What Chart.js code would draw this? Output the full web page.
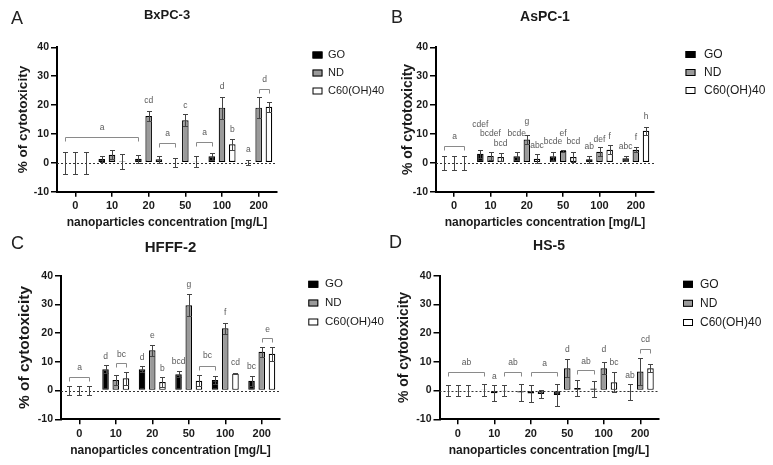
<!DOCTYPE html>
<html>
<head>
<meta charset="utf-8">
<title>Citotoxicidade</title>
<script src="https://cdn.jsdelivr.net/npm/chart.js@4.4.1/dist/chart.umd.min.js"></script>
<style>
body { margin: 0; background: #fff; }
#pagina { position: relative; width: 773px; height: 465px; overflow: hidden; }
canvas { position: absolute; }
</style>
</head>
<body>
<div id="pagina">
<canvas id="painel-a" width="386" height="232" style="left:0px;top:0px"></canvas>
<canvas id="painel-b" width="387" height="232" style="left:386px;top:0px"></canvas>
<canvas id="painel-c" width="386" height="233" style="left:0px;top:232px"></canvas>
<canvas id="painel-d" width="387" height="233" style="left:386px;top:232px"></canvas>
</div>
<script>
const doses = ["0", "10", "20", "50", "100", "200"];
const seriesNames = ["GO", "ND", "C60(OH)40"];
const yMin = -10;
const yMax = 40;
const yStep = 10;

// BxPC-3
const bxpcGO = [0, 1.3, 1.4, 0, 2.3, 0.2];
const bxpcND = [0, 2.8, 16.2, 14.7, 19.1, 19.1];
const bxpcC60 = [0, 0.5, 1.2, 0.4, 6.4, 19.4];
const bxpcGOsd = [3.9, 0.9, 1.4, 1.6, 1.2, 0.8];
const bxpcNDsd = [3.9, 1.5, 1.6, 2.1, 3.8, 3.7];
const bxpcC60sd = [3.9, 2.6, 1.1, 2.0, 1.9, 1.7];

// AsPC-1
const aspcGO = [0, 3.1, 2.3, 2.3, 1.2, 1.6];
const aspcND = [0, 2.4, 8.1, 4.2, 3.8, 4.5];
const aspcC60 = [0, 2.0, 1.4, 2.0, 4.5, 11.1];
const aspcGOsd = [2.4, 1.4, 1.3, 1.6, 1.3, 0.9];
const aspcNDsd = [2.4, 1.4, 1.7, 0.4, 1.6, 0.9];
const aspcC60sd = [2.4, 1.5, 1.5, 1.7, 1.5, 1.4];

// HFFF-2
const hfffGO = [0, 7.4, 7.4, 5.7, 3.7, 3.4];
const hfffND = [0, 3.7, 14.0, 29.7, 21.7, 13.5];
const hfffC60 = [0, 4.3, 3.0, 3.4, 5.9, 12.8];
const hfffGOsd = [1.5, 1.4, 1.0, 1.0, 1.3, 1.7];
const hfffNDsd = [1.5, 1.8, 1.8, 3.9, 2.0, 1.7];
const hfffC60sd = [1.5, 2.3, 1.7, 1.9, 0.3, 2.4];

// HS-5
const hsGO = [0, 0.2, -0.7, -1.5, 0.7, -0.4];
const hsND = [0, -0.9, -1.0, 7.8, 7.8, 6.6];
const hsC60 = [0, -0.1, -1.2, 0.9, 2.9, 7.8];
const hsGOsd = [1.9, 2.0, 3.0, 3.9, 2.8, 2.8];
const hsNDsd = [1.9, 2.9, 2.9, 3.1, 2.0, 4.7];
const hsC60sd = [1.9, 1.9, 1.3, 2.7, 3.5, 1.4];

// letras de significancia: at = [dose, serie], from/to = colchete
const bxpcLetters = [
  { text: "a", from: [0, 0], to: [2, 0], y: 8.9, ly: 12.2 },
  { text: "cd", at: [2, 1], ly: 21.4 },
  { text: "a", from: [2, 2], to: [3, 0], y: 6.9, ly: 10.1 },
  { text: "c", at: [3, 1], ly: 19.9 },
  { text: "a", from: [3, 2], to: [4, 0], y: 7.2, ly: 10.6 },
  { text: "d", at: [4, 1], ly: 26.3 },
  { text: "b", at: [4, 2], ly: 11.6 },
  { text: "a", at: [5, 0], ly: 4.5 },
  { text: "d", from: [5, 1], to: [5, 2], y: 25.7, ly: 28.9 }
];
const aspcLetters = [
  { text: "a", from: [0, 0], to: [0, 2], y: 5.7, ly: 8.9 },
  { text: "cdef", at: [1, 0], ly: 13.2 },
  { text: "bcdef", at: [1, 1], ly: 10.2 },
  { text: "bcd", at: [1, 2], ly: 6.8 },
  { text: "bcde", at: [2, 0], ly: 10.2 },
  { text: "g", at: [2, 1], ly: 14.3 },
  { text: "abc", at: [2, 2], ly: 5.8 },
  { text: "bcde", at: [3, 0], ly: 7.3 },
  { text: "ef", at: [3, 1], ly: 10.2 },
  { text: "bcd", at: [3, 2], ly: 7.3 },
  { text: "ab", at: [4, 0], ly: 5.7 },
  { text: "def", at: [4, 1], ly: 8.1 },
  { text: "f", at: [4, 2], ly: 9.2 },
  { text: "abc", at: [5, 0], ly: 5.6 },
  { text: "f", at: [5, 1], ly: 8.6 },
  { text: "h", at: [5, 2], ly: 16.0 }
];
const hfffLetters = [
  { text: "a", from: [0, 0], to: [0, 2], y: 4.9, ly: 8.0 },
  { text: "d", at: [1, 0], ly: 11.9 },
  { text: "bc", from: [1, 1], to: [1, 2], y: 9.5, ly: 12.4 },
  { text: "d", at: [2, 0], ly: 11.3 },
  { text: "e", at: [2, 1], ly: 19.1 },
  { text: "b", at: [2, 2], ly: 7.6 },
  { text: "bcd", at: [3, 0], ly: 10.1 },
  { text: "g", at: [3, 1], ly: 36.9 },
  { text: "bc", from: [3, 2], to: [4, 0], y: 8.7, ly: 12.1 },
  { text: "f", at: [4, 1], ly: 27.2 },
  { text: "cd", at: [4, 2], ly: 9.8 },
  { text: "bc", at: [5, 0], ly: 8.4 },
  { text: "e", from: [5, 1], to: [5, 2], y: 18.3, ly: 21.2 }
];
const hsLetters = [
  { text: "ab", from: [0, 0], to: [1, 0], y: 6.3, ly: 9.8 },
  { text: "a", at: [1, 1], ly: 4.9 },
  { text: "ab", from: [1, 2], to: [2, 0], y: 6.3, ly: 9.8 },
  { text: "a", from: [2, 1], to: [3, 0], y: 6.3, ly: 9.5 },
  { text: "d", at: [3, 1], ly: 14.2 },
  { text: "ab", from: [3, 2], to: [4, 0], y: 7.0, ly: 10.1 },
  { text: "d", at: [4, 1], ly: 14.2 },
  { text: "bc", at: [4, 2], ly: 9.8 },
  { text: "ab", at: [5, 0], ly: 5.1 },
  { text: "cd", from: [5, 1], to: [5, 2], y: 14.4, ly: 17.7 }
];

const fonte = "'Liberation Sans', Arial, sans-serif";
const corTexto = "#1a1a1a";
const coresSeries = ["#000000", "#9a9a9a", "#ffffff"];

function criarExtras(cfg) {
  return {
    id: "extras",
    beforeDatasetsDraw(chart) {
      const { ctx, chartArea } = chart;
      const y0 = Math.round(chart.scales.y.getPixelForValue(0)) + 0.5;
      ctx.save();
      ctx.strokeStyle = "#333";
      ctx.lineWidth = 1;
      ctx.setLineDash([2, 2]);
      ctx.beginPath();
      ctx.moveTo(chartArea.left, y0);
      ctx.lineTo(chartArea.right, y0);
      ctx.stroke();
      ctx.restore();
    },
    afterDatasetsDraw(chart) {
      const { ctx } = chart;
      const y = chart.scales.y;
      const barX = (p) => chart.getDatasetMeta(p[1]).data[p[0]].x;
      ctx.save();

      // barras de erro
      ctx.strokeStyle = "#444";
      ctx.lineWidth = 1;
      chart.data.datasets.forEach((ds, i) => {
        const meta = chart.getDatasetMeta(i);
        meta.data.forEach((bar, j) => {
          const v = ds.data[j];
          const e = ds.erro[j];
          const yt = Math.round(y.getPixelForValue(v + e)) + 0.5;
          const yb = Math.round(y.getPixelForValue(v - e)) + 0.5;
          const x = Math.round(bar.x) + 0.5;
          ctx.beginPath();
          ctx.moveTo(x, yt); ctx.lineTo(x, yb);
          ctx.moveTo(x - 2.5, yt); ctx.lineTo(x + 2.5, yt);
          ctx.moveTo(x - 2.5, yb); ctx.lineTo(x + 2.5, yb);
          ctx.stroke();
        });
      });

      // letras e colchetes
      ctx.font = "8.5px " + fonte;
      ctx.textAlign = "center";
      ctx.textBaseline = "middle";
      for (const l of cfg.letras) {
        let xc;
        if (l.at) {
          xc = barX(l.at);
        } else {
          const x1 = Math.round(barX(l.from)) + 0.5;
          const x2 = Math.round(barX(l.to)) + 0.5;
          const yb = Math.round(y.getPixelForValue(l.y)) + 0.5;
          ctx.strokeStyle = "#8a8a8a";
          ctx.beginPath();
          ctx.moveTo(x1, yb + 4); ctx.lineTo(x1, yb);
          ctx.lineTo(x2, yb); ctx.lineTo(x2, yb + 4);
          ctx.stroke();
          xc = (x1 + x2) / 2;
        }
        ctx.fillStyle = "#5a5a5a";
        ctx.fillText(l.text, xc, y.getPixelForValue(l.ly));
      }
      ctx.restore();
    },
    afterDraw(chart) {
      const { ctx, chartArea } = chart;
      ctx.save();
      ctx.textBaseline = "middle";

      ctx.fillStyle = "#222";
      ctx.font = "18px " + fonte;
      ctx.textAlign = "left";
      ctx.fillText(cfg.letra, cfg.letraX, cfg.letraY);

      ctx.fillStyle = corTexto;
      ctx.font = "bold " + cfg.tituloFonte + "px " + fonte;
      ctx.textAlign = "center";
      ctx.fillText(cfg.titulo, (chartArea.left + chartArea.right) / 2, cfg.tituloY);

      // legenda
      ctx.textAlign = "left";
      ctx.font = cfg.legendaFonte + "px " + fonte;
      cfg.legendaY.forEach((ly, i) => {
        ctx.fillStyle = coresSeries[i];
        ctx.fillRect(cfg.caixaX, ly - 3.5, 10, 7);
        ctx.strokeStyle = "#000";
        ctx.lineWidth = 1;
        ctx.strokeRect(cfg.caixaX + 0.5, ly - 3, 9, 6);
        ctx.fillStyle = corTexto;
        ctx.fillText(seriesNames[i], cfg.textoX, ly);
      });
      ctx.restore();
    }
  };
}

function serie(i, valores, erros) {
  return {
    label: seriesNames[i],
    data: valores,
    erro: erros,
    backgroundColor: coresSeries[i],
    borderColor: "#000",
    borderWidth: 1.2,
    borderSkipped: false,
    barPercentage: 0.64,
    categoryPercentage: 0.84
  };
}

function desenharPainel(id, cfg) {
  const canvas = document.getElementById(id);
  const W = canvas.width;
  const H = canvas.height;
  const lhY = cfg.yTituloFonte * 1.2;
  const lhX = 12 * 1.2;

  new Chart(canvas, {
    type: "bar",
    data: {
      labels: doses,
      datasets: [
        serie(0, cfg.go, cfg.goSd),
        serie(1, cfg.nd, cfg.ndSd),
        serie(2, cfg.c60, cfg.c60Sd)
      ]
    },
    options: {
      responsive: false,
      animation: false,
      events: [],
      layout: { padding: { top: cfg.top, right: W - cfg.right, left: 0, bottom: 0 } },
      plugins: {
        legend: { display: false },
        title: { display: false },
        tooltip: { enabled: false }
      },
      scales: {
        x: {
          offset: true,
          afterFit: (s) => { s.height = H - cfg.bottom; },
          grid: { drawOnChartArea: false, offset: false, color: "#000", lineWidth: 1.5, tickLength: 5 },
          border: { display: true, color: "#000", width: 2 },
          ticks: { color: corTexto, font: { family: fonte, size: 11, weight: "bold" }, padding: 3, maxRotation: 0, autoSkip: false },
          title: {
            display: true,
            text: "nanoparticles concentration [mg/L]",
            color: corTexto,
            font: { family: fonte, size: 12, weight: "bold" },
            padding: { top: 0, bottom: H - cfg.xTituloY - lhX / 2 }
          }
        },
        y: {
          min: yMin,
          max: yMax,
          afterFit: (s) => { s.width = cfg.left; },
          grid: { drawOnChartArea: false, color: "#000", lineWidth: 1.5, tickLength: 6 },
          border: { display: true, color: "#000", width: 2 },
          ticks: { stepSize: yStep, color: corTexto, font: { family: fonte, size: 10.5, weight: "bold" }, padding: 2 },
          title: {
            display: true,
            text: "% of cytotoxicity",
            color: corTexto,
            font: { family: fonte, size: cfg.yTituloFonte, weight: "bold" },
            padding: { top: cfg.yTituloX - lhY / 2, bottom: 0 }
          }
        }
      }
    },
    plugins: [criarExtras(cfg)]
  });
}

desenharPainel("painel-a", {
  go: bxpcGO, nd: bxpcND, c60: bxpcC60, goSd: bxpcGOsd, ndSd: bxpcNDsd, c60Sd: bxpcC60sd,
  letras: bxpcLetters, letra: "A", titulo: "BxPC-3",
  left: 57, right: 277, top: 47.3, bottom: 191.7,
  yTituloX: 23, yTituloFonte: 13.5, xTituloY: 223,
  letraX: 11, letraY: 19, tituloY: 15, tituloFonte: 13,
  caixaX: 312.5, textoX: 328, legendaY: [55, 73, 91], legendaFonte: 11
});

desenharPainel("painel-b", {
  go: aspcGO, nd: aspcND, c60: aspcC60, goSd: aspcGOsd, ndSd: aspcNDsd, c60Sd: aspcC60sd,
  letras: aspcLetters, letra: "B", titulo: "AsPC-1",
  left: 50, right: 268, top: 47.3, bottom: 191.7,
  yTituloX: 22.3, yTituloFonte: 14, xTituloY: 223,
  letraX: 5, letraY: 18, tituloY: 17, tituloFonte: 14,
  caixaX: 299.5, textoX: 318, legendaY: [54.5, 72.5, 90.5], legendaFonte: 12
});

desenharPainel("painel-c", {
  go: hfffGO, nd: hfffND, c60: hfffC60, goSd: hfffGOsd, ndSd: hfffNDsd, c60Sd: hfffC60sd,
  letras: hfffLetters, letra: "C", titulo: "HFFF-2",
  left: 61, right: 280, top: 43.7, bottom: 187.3,
  yTituloX: 25, yTituloFonte: 15.5, xTituloY: 219,
  letraX: 11, letraY: 12, tituloY: 15.5, tituloFonte: 15,
  caixaX: 308.3, textoX: 325, legendaY: [52.3, 71, 90], legendaFonte: 11.5
});

desenharPainel("painel-d", {
  go: hsGO, nd: hsND, c60: hsC60, goSd: hsGOsd, ndSd: hsNDsd, c60Sd: hsC60sd,
  letras: hsLetters, letra: "D", titulo: "HS-5",
  left: 53.5, right: 272.5, top: 43.7, bottom: 187.3,
  yTituloX: 18.3, yTituloFonte: 14, xTituloY: 219,
  letraX: 3, letraY: 11, tituloY: 14, tituloFonte: 14,
  caixaX: 297, textoX: 314, legendaY: [52.3, 71.3, 90.5], legendaFonte: 12
});
</script>
</body>
</html>
